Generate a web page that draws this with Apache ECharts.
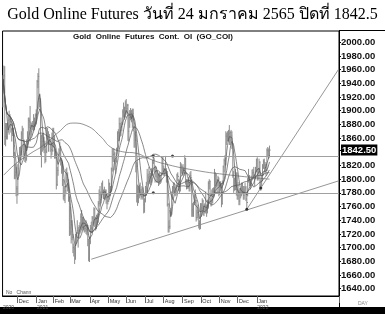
<!DOCTYPE html>
<html><head><meta charset="utf-8">
<script src="https://cdn.jsdelivr.net/npm/echarts@6/dist/echarts.min.js"></script>
<style>html,body{margin:0;padding:0;background:#fff;}#c{width:385px;height:314px;}</style>
</head><body><div id="c"></div>
<script>
// Daily bars [high, low, close] per month
const nov20 = [[1952,1905,1946],[1966,1935,1951],[1965,1850,1862],[1882,1848,1876],[1882,1858,1862],[1882,1858,1873],[1893,1868,1886],[1900,1865,1887],[1895,1875,1884],[1890,1868,1873],[1875,1855,1867],[1883,1863,1872],[1875,1831,1837],[1840,1800,1806],[1822,1800,1810],[1818,1775,1786],[1790,1764,1778]];
const dec20 = [[1822,1776,1816],[1835,1804,1830],[1847,1827,1840],[1848,1828,1840],[1870,1835,1866],[1878,1858,1872],[1875,1832,1840],[1858,1835,1837],[1850,1825,1843],[1850,1824,1830],[1858,1827,1856],[1870,1850,1860],[1890,1858,1886],[1890,1874,1884],[1907,1855,1878],[1884,1860,1870],[1882,1864,1877],[1885,1872,1878],[1895,1870,1877],[1890,1872,1882],[1896,1877,1893],[1902,1880,1895]];
const jan21 = [[1945,1893,1943],[1955,1933,1950],[1962,1902,1918],[1925,1905,1913],[1918,1835,1849],[1865,1817,1850],[1866,1840,1855],[1868,1842,1846],[1862,1838,1851],[1856,1823,1829],[1845,1825,1840],[1875,1838,1871],[1875,1858,1866],[1870,1840,1856],[1866,1850,1855],[1858,1840,1850],[1852,1830,1843],[1868,1835,1842],[1875,1840,1850]];
const feb21 = [[1875,1846,1863],[1863,1830,1835],[1845,1830,1835],[1840,1785,1792],[1818,1790,1813],[1837,1805,1833],[1845,1827,1838],[1855,1835,1842],[1848,1820,1827],[1828,1808,1823],[1825,1790,1799],[1800,1770,1775],[1790,1768,1776],[1790,1765,1783],[1815,1778,1808],[1817,1795,1806],[1810,1782,1797],[1800,1767,1773],[1775,1717,1729]];
const mar21 = [[1760,1718,1723],[1740,1706,1733],[1740,1711,1715],[1720,1692,1700],[1706,1687,1698],[1703,1676,1683],[1720,1683,1716],[1722,1706,1722],[1740,1720,1725],[1730,1700,1720],[1733,1715,1730],[1737,1720,1730],[1750,1722,1745],[1755,1725,1734],[1745,1728,1741],[1745,1725,1740],[1740,1722,1728],[1738,1723,1734],[1740,1720,1726],[1734,1718,1732],[1733,1702,1712],[1712,1680,1685],[1716,1679,1709]];
const apr21 = [[1733,1705,1728],[1738,1721,1729],[1746,1725,1743],[1746,1732,1737],[1759,1735,1756],[1758,1730,1744],[1745,1725,1732],[1748,1727,1745],[1750,1733,1737],[1768,1737,1764],[1785,1760,1777],[1790,1763,1770],[1782,1765,1778],[1795,1772,1793],[1798,1778,1782],[1785,1771,1777],[1789,1770,1780],[1785,1770,1778],[1785,1764,1773],[1777,1756,1768],[1775,1763,1768]];
const may21 = [[1800,1767,1793],[1795,1770,1779],[1790,1775,1784],[1817,1783,1815],[1845,1811,1831],[1845,1825,1836],[1845,1825,1837],[1840,1813,1823],[1829,1808,1826],[1846,1824,1844],[1870,1841,1867],[1873,1855,1868],[1890,1856,1881],[1882,1862,1876],[1890,1863,1877],[1884,1870,1881],[1902,1879,1898],[1912,1890,1901],[1906,1887,1896],[1915,1890,1904]];
const jun21 = [[1917,1896,1903],[1910,1894,1908],[1910,1856,1870],[1894,1855,1890],[1901,1875,1898],[1904,1886,1893],[1901,1883,1891],[1903,1875,1896],[1903,1870,1877],[1878,1846,1866],[1870,1846,1857],[1865,1810,1818],[1825,1766,1775],[1792,1761,1768],[1790,1765,1785],[1792,1772,1780],[1795,1775,1779],[1786,1770,1775],[1790,1772,1780],[1788,1770,1778],[1780,1750,1763],[1772,1751,1771]];
const jul21 = [[1790,1766,1783],[1796,1776,1787],[1815,1780,1797],[1808,1792,1802],[1818,1795,1804],[1812,1793,1808],[1808,1791,1805],[1816,1795,1812],[1828,1805,1824],[1834,1822,1830],[1830,1810,1815],[1820,1795,1812],[1818,1803,1812],[1812,1795,1803],[1810,1795,1806],[1808,1790,1802],[1810,1792,1798],[1806,1793,1799],[1810,1795,1806],[1832,1806,1828],[1833,1810,1815]];
const aug21 = [[1820,1805,1812],[1816,1805,1814],[1834,1808,1813],[1816,1795,1806],[1812,1760,1763],[1765,1722,1730],[1740,1722,1731],[1755,1727,1752],[1758,1745,1751],[1782,1748,1778],[1790,1770,1787],[1795,1780,1788],[1795,1780,1787],[1790,1775,1781],[1788,1776,1784],[1808,1781,1806],[1810,1797,1804],[1800,1783,1791],[1798,1780,1795],[1825,1782,1818],[1823,1808,1813],[1820,1805,1814]];
const sep21 = [[1822,1808,1815],[1818,1805,1810],[1835,1808,1830],[1831,1792,1796],[1800,1785,1795],[1800,1786,1796],[1803,1786,1790],[1796,1782,1793],[1810,1782,1805],[1812,1795,1802],[1800,1745,1755],[1765,1745,1751],[1767,1745,1763],[1778,1762,1774],[1785,1765,1769],[1770,1738,1744],[1755,1740,1751],[1763,1743,1751],[1750,1728,1735],[1740,1726,1730],[1765,1727,1756]];
const oct21 = [[1765,1745,1758],[1772,1753,1768],[1770,1747,1760],[1763,1746,1762],[1765,1750,1756],[1782,1750,1757],[1763,1745,1755],[1770,1750,1760],[1797,1757,1794],[1800,1785,1797],[1798,1764,1768],[1772,1760,1765],[1785,1762,1770],[1787,1765,1782],[1788,1775,1782],[1815,1780,1796],[1810,1790,1806],[1808,1788,1795],[1800,1780,1798],[1805,1790,1802],[1802,1775,1784]];
const nov21 = [[1796,1777,1794],[1797,1783,1789],[1794,1759,1764],[1798,1763,1795],[1820,1792,1818],[1830,1810,1827],[1835,1820,1830],[1870,1820,1863],[1868,1850,1862],[1870,1855,1865],[1872,1855,1867],[1879,1850,1854],[1870,1850,1868],[1872,1855,1863],[1870,1844,1852],[1853,1802,1806],[1812,1780,1790],[1802,1783,1785],[1815,1784,1790],[1810,1776,1785],[1810,1770,1776]];
const dec21 = [[1796,1770,1781],[1785,1762,1768],[1787,1762,1783],[1787,1772,1779],[1795,1775,1785],[1795,1778,1784],[1790,1770,1776],[1790,1770,1784],[1795,1780,1787],[1790,1768,1771],[1780,1756,1766],[1802,1775,1800],[1815,1795,1801],[1806,1790,1794],[1800,1785,1791],[1805,1790,1803],[1814,1798,1809],[1815,1803,1810],[1818,1800,1805],[1807,1790,1805],[1818,1800,1814],[1830,1810,1828]];
const jan22 = [[1832,1798,1801],[1815,1798,1814],[1830,1810,1825],[1826,1785,1790],[1800,1783,1797],[1805,1790,1798],[1822,1797,1818],[1829,1815,1825],[1830,1815,1821],[1825,1810,1817],[1822,1805,1813],[1845,1812,1842],[1847,1833,1841],[1845,1830,1835],[1849,1832,1842.5]];

const startDate = '2020-11-05';
const holidays = ['2020-11-26','2020-12-25','2021-01-01','2021-01-18','2021-02-15','2021-04-02','2021-05-31','2021-07-05','2021-09-06','2021-11-25','2021-12-24','2022-01-17'];
const totalSlots = 385;
const monthAbbr = ['Jan','Feb','Mar','Apr','May','Jun','Jul','Aug','Sep','Oct','Nov','Dec'];
const yLabels = [1640,1660,1680,1700,1720,1740,1760,1780,1800,1820,1842.5,1860,1880,1900,1920,1940,1960,1980,2000];
const lastClose = 1842.5;
const hLines = [1834, 1780];
const maPeriods = [5, 10, 25, 50];
// long moving average: [slot, value]
const ma200 = [[1,1806],[15,1823],[32,1838],[47,1850],[63,1868],[80,1882],[96,1878],[112,1862],[123,1847],[137,1840],[152,1838],[167,1830],[183,1823],[220,1813],[260,1806],[305,1800]];
const supportLine = [[101,1683],[384,1797.5]];
const steepLine = [[279,1756],[384,1960.5]];
const dots = [[172,1834],[194,1834],[172,1780],[279,1756],[295,1787]];

const bars = [].concat(nov20,dec20,jan21,feb21,mar21,apr21,may21,jun21,jul21,aug21,sep21,oct21,nov21,dec21,jan22);

// trading-day calendar
const dates = [];
(function(){
  let d = new Date(startDate + 'T00:00:00Z');
  while (dates.length < totalSlots) {
    const s = d.toISOString().slice(0,10);
    const wd = d.getUTCDay();
    if (wd !== 0 && wd !== 6 && (dates.length >= bars.length || holidays.indexOf(s) < 0)) dates.push(s);
    d.setUTCDate(d.getUTCDate() + 1);
  }
})();

const barData = bars.map((b,i)=>[i,b[0],b[1],b[2]]);
function movingAvg(p){
  const out = [];
  for (let i=0;i<bars.length;i++){
    let s=0,n=0;
    for (let j=Math.max(0,i-p+1);j<=i;j++){s+=bars[j][2];n++;}
    out.push([i, s/n]);
  }
  return out;
}
function isMonthStart(i){
  if (i >= bars.length) return false;
  if (i === 0) return true;
  return dates[i].slice(5,7) !== dates[i-1].slice(5,7);
}

const chart = echarts.init(document.getElementById('c'), null, {renderer:'canvas'});
const series = [];
series.push({
  type:'custom', name:'GO', data: barData, encode:{x:0,y:[1,2]},
  renderItem: function(params, api){
    const x = api.value(0);
    const hi = api.coord([x, api.value(1)]);
    const lo = api.coord([x, api.value(2)]);
    const cl = api.coord([x, api.value(3)]);
    return {type:'group', children:[
      {type:'line', shape:{x1:hi[0],y1:hi[1],x2:lo[0],y2:lo[1]}, style:{stroke:'#8c8c8c', lineWidth:1}},
      {type:'line', shape:{x1:cl[0],y1:cl[1],x2:cl[0]+1.2,y2:cl[1]}, style:{stroke:'#8c8c8c', lineWidth:1}}
    ]};
  },
  markLine: {silent:true, symbol:['none','none'], label:{show:false},
    lineStyle:{color:'#a0a0a0', width:1, type:'solid'},
    data: hLines.map(v=>({yAxis:v}))},
  z:2
});
maPeriods.forEach(p=>{
  series.push({type:'line', data: movingAvg(p), showSymbol:false, symbol:'none',
    lineStyle:{color:'#555', width:0.7}, z:3, silent:true});
});
series.push({type:'line', data: ma200, smooth:true, showSymbol:false, symbol:'none',
  lineStyle:{color:'#666', width:0.7}, z:3, silent:true});
[supportLine, steepLine].forEach(l=>{
  series.push({type:'line', data:l, showSymbol:false, symbol:'none',
    lineStyle:{color:'#8a8a8a', width:0.9}, z:3, silent:true});
});
series.push({type:'scatter', data:dots, symbolSize:3, itemStyle:{color:'#111'}, z:4, silent:true});

chart.setOption({
  animation:false,
  backgroundColor:'#fff',
  title:{text:'Gold Online Futures วันที่ 24 มกราคม 2565 ปิดที่ 1842.5', left:'center', top:2,
    textStyle:{fontFamily:'Liberation Serif, DejaVu Serif, serif', fontSize:16, fontWeight:'normal', color:'#000'}},
  grid:{left:2, right:46, top:31, bottom:18, show:true, borderColor:'#000', borderWidth:1, backgroundColor:'transparent'},
  xAxis:{type:'category', data:dates, boundaryGap:true,
    axisLine:{show:true, lineStyle:{color:'#000', width:1}},
    axisTick:{show:true, interval:(i)=>isMonthStart(i) && i>0, length:7, lineStyle:{color:'#666', width:1}},
    axisLabel:{show:true, interval:(i)=>isMonthStart(i), align:'left', margin:2,
      fontFamily:'Liberation Sans, Arial, sans-serif', fontSize:5.5, color:'#333', lineHeight:7,
      formatter:function(v, i){
        const m = parseInt(v.slice(5,7),10)-1;
        if (i === 0) return '{m| }\n{y|' + v.slice(0,4) + '}';
        if (m === 0) return '{m|Jan}\n{y|' + v.slice(0,4) + '}';
        return '{m|' + monthAbbr[m] + '}';
      },
      rich:{m:{fontSize:5.5, color:'#333', lineHeight:7, padding:[0,0,0,1]}, y:{fontSize:5, color:'#444', lineHeight:5}}},
    splitLine:{show:false}},
  yAxis:{type:'value', position:'right', min:1629.3, max:2016.5, scale:true,
    axisLine:{show:true, lineStyle:{color:'#000', width:1}},
    axisTick:{show:true, customValues:yLabels, length:2, lineStyle:{color:'#000'}},
    axisLabel:{show:true, customValues:yLabels, margin:2,
      fontFamily:'Liberation Sans, Arial, sans-serif', fontSize:9.5, fontWeight:'bold', color:'#111',
      formatter:function(v){ return Math.abs(v-lastClose)<0.01 ? '{hl|' + v.toFixed(2) + '}' : v.toFixed(2); },
      rich:{hl:{backgroundColor:'#000', color:'#fff', fontSize:9.5, fontWeight:'bold', padding:[1,1,0,1], fontFamily:'Liberation Sans, Arial, sans-serif'}}},
    splitLine:{show:false}},
  graphic:[
    {type:'line', shape:{x1:339, y1:30.5, x2:385, y2:30.5}, style:{stroke:'#000', lineWidth:1}, silent:true},
    {type:'line', shape:{x1:339.5, y1:296, x2:339.5, y2:307}, style:{stroke:'#000', lineWidth:1}, silent:true},
    {type:'text', left:73, top:33, style:{text:'Gold  Online  Futures  Cont.  OI  (GO_COI)', font:'bold 8px Liberation Sans, Arial, sans-serif', fill:'#111'}, silent:true},
    {type:'text', left:6, top:290, style:{text:'No   Chann', font:'5px Liberation Sans, Arial, sans-serif', fill:'#555'}, silent:true},
    {type:'text', left:358, top:301, style:{text:'DAY', font:'5px Liberation Sans, Arial, sans-serif', fill:'#888'}, silent:true},
    {type:'rect', shape:{x:0, y:307, width:385, height:7}, style:{fill:'#000'}, silent:true}
  ],
  series: series
});
</script></body></html>
